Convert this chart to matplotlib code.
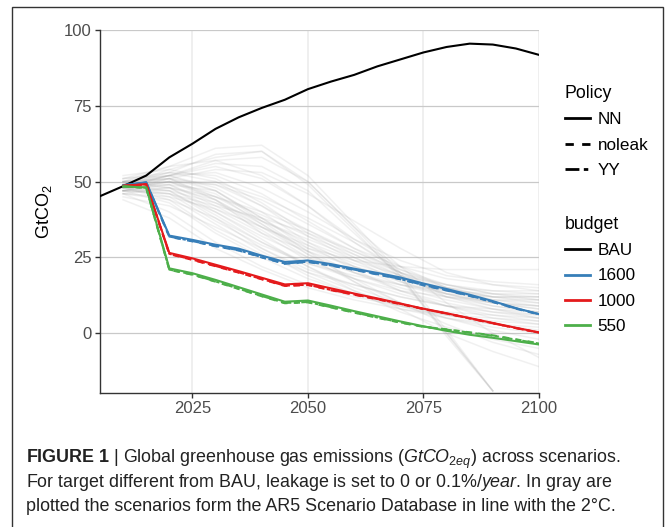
import numpy as np
import matplotlib
matplotlib.use("Agg")
import matplotlib.pyplot as plt
from matplotlib.lines import Line2D
from matplotlib.patches import Rectangle

plt.rcParams['font.family'] = ['Liberation Sans', 'DejaVu Sans']
plt.rcParams['mathtext.fontset'] = 'custom'
plt.rcParams['mathtext.rm'] = 'Liberation Sans'
plt.rcParams['mathtext.it'] = 'Liberation Sans:italic'
plt.rcParams['mathtext.bf'] = 'Liberation Sans:bold'

# BAU emissions path (GtCO2)
bau_years = [2005, 2010, 2015, 2020, 2025, 2030, 2035, 2040, 2045, 2050,
             2055, 2060, 2065, 2070, 2075, 2080, 2085, 2090, 2095, 2100]
bau = [45.2, 48.5, 52.0, 58.0, 62.5, 67.4, 71.2, 74.3, 77.0, 80.5,
       83.0, 85.2, 88.0, 90.3, 92.6, 94.4, 95.5, 95.2, 93.9, 91.8]

# budget scenarios, one array per budget and policy
years = [2010, 2015, 2020, 2025, 2030, 2035, 2040, 2045, 2050, 2055,
         2060, 2065, 2070, 2075, 2080, 2085, 2090, 2095, 2100]
b1600_nn = [48.8, 49.8, 32.2, 30.8, 29.2, 27.9, 25.6, 23.5, 24.0, 22.8,
            21.3, 19.9, 18.4, 16.4, 14.6, 12.7, 10.6, 8.3, 6.3]
b1600_noleak = [48.8, 49.6, 31.8, 30.3, 28.7, 27.3, 25.0, 22.9, 23.5, 22.3,
                20.9, 19.4, 17.8, 15.8, 14.1, 12.3, 10.3, 8.1, 6.2]
b1600_yy = [48.8, 49.7, 31.9, 30.4, 28.8, 27.4, 25.1, 23.0, 23.6, 22.4,
            21.0, 19.5, 17.9, 15.9, 14.2, 12.4, 10.4, 8.2, 6.3]
b1000_nn = [48.6, 49.2, 26.5, 24.7, 22.6, 20.5, 18.3, 16.1, 16.5, 14.8,
            13.1, 11.5, 9.8, 8.1, 6.6, 5.0, 3.4, 1.8, 0.3]
b1000_noleak = [48.6, 49.0, 26.1, 24.2, 22.1, 20.0, 17.8, 15.6, 15.9, 14.2,
                12.7, 11.2, 9.6, 8.0, 6.5, 4.9, 3.3, 1.7, 0.2]
b1000_yy = [48.6, 49.1, 26.2, 24.3, 22.2, 20.1, 17.9, 15.7, 16.0, 14.3,
            12.8, 11.3, 9.7, 8.0, 6.5, 4.9, 3.3, 1.7, 0.2]
b550_nn = [48.4, 48.1, 21.4, 19.8, 17.6, 15.2, 12.8, 10.4, 10.8, 9.1,
           7.3, 5.6, 3.9, 2.3, 0.8, -0.5, -1.5, -2.6, -3.7]
b550_noleak = [48.4, 47.9, 20.9, 19.3, 17.0, 14.6, 12.2, 9.9, 10.2, 8.5,
               6.8, 5.1, 3.5, 2.1, 1.3, 0.3, -0.7, -2.0, -3.3]
b550_yy = [48.4, 48.0, 21.0, 19.4, 17.1, 14.7, 12.3, 10.0, 10.3, 8.6,
           6.9, 5.2, 3.6, 2.2, 1.2, 0.2, -0.8, -2.1, -3.4]

# AR5 scenario database runs compatible with 2°C
ar5_years = [2010, 2020, 2030, 2040, 2050, 2060, 2070, 2080, 2090, 2100]
ar5_runs = [
    [48, 52, 55, 51, 42, 30, 20, 12, 8, 5],
    [49, 54, 58, 60, 50, 35, 22, 10, 0, -8],
    [50, 55, 61, 62, 52, 36, 20, 1, -19, np.nan],
    [49, 53, 59, 60, 49, 34, 18, 0, -19, np.nan],
    [48, 52, 56, 55, 47, 33, 19, -1, -19, np.nan],
    [49, 52, 57, 58, 50, 35, 19, 0, -19, np.nan],
    [47, 50, 50, 45, 38, 30, 21, 15, 12, 10],
    [46, 48, 45, 40, 34, 27, 20, 15, 12, 11],
    [47, 49, 47, 38, 28, 22, 17, 13, 10, 8],
    [48, 50, 46, 36, 26, 20, 15, 11, 8, 6],
    [49, 51, 44, 33, 24, 18, 13, 9, 6, 4],
    [50, 52, 48, 40, 30, 22, 16, 12, 10, 9],
    [51, 53, 50, 42, 32, 24, 17, 12, 9, 7],
    [47, 46, 40, 32, 25, 20, 16, 13, 12, 12],
    [46, 44, 38, 30, 23, 18, 14, 12, 11, 11],
    [45, 42, 35, 28, 21, 16, 12, 9, 7, 6],
    [48, 47, 39, 30, 22, 15, 10, 6, 3, 1],
    [49, 49, 42, 34, 25, 17, 10, 5, 1, -2],
    [50, 50, 44, 35, 26, 18, 10, 3, -3, -7],
    [51, 52, 47, 37, 27, 17, 8, 0, -6, -11],
    [48, 45, 36, 27, 19, 13, 8, 5, 3, 2],
    [47, 43, 33, 25, 18, 13, 9, 6, 4, 3],
    [46, 40, 30, 22, 16, 12, 9, 7, 6, 5],
    [44, 38, 28, 21, 15, 11, 8, 6, 5, 4],
    [49, 48, 41, 33, 27, 22, 18, 15, 14, 14],
    [50, 51, 45, 37, 30, 24, 19, 16, 14, 13],
    [48, 50, 49, 44, 36, 28, 22, 18, 16, 15],
    [49, 52, 53, 48, 40, 31, 24, 19, 17, 16],
    [47, 51, 54, 53, 46, 37, 28, 20, 16, 14],
    [48, 49, 43, 35, 28, 24, 22, 21, 21, 21],
    [50, 53, 52, 46, 37, 28, 20, 14, 10, 8],
    [52, 54, 51, 43, 33, 25, 18, 13, 10, 9],
    [46, 45, 41, 35, 29, 23, 18, 14, 12, 12],
    [47, 47, 43, 37, 31, 25, 19, 14, 11, 10],
    [48, 46, 37, 29, 23, 19, 16, 14, 13, 13],
    [49, 47, 38, 28, 20, 14, 9, 5, 2, 0],
    [50, 48, 40, 31, 22, 14, 7, 2, -2, -5],
    [48, 44, 34, 26, 20, 16, 12, 9, 8, 7],
    [47, 46, 42, 38, 33, 27, 21, 16, 13, 11],
    [51, 55, 57, 52, 42, 31, 22, 15, 11, 9],
    [49, 50, 45, 39, 32, 26, 20, 16, 13, 12],
    [48, 51, 49, 42, 34, 26, 19, 13, 9, 7],
    [47, 48, 44, 36, 27, 20, 14, 10, 7, 5],
    [50, 51, 47, 38, 29, 21, 14, 9, 5, 3],
]

budget_names = ["BAU", "1600", "1000", "550"]
budget_colors = ["black", "#377EB8", "#E41A1C", "#4DAF4A"]
policy_names = ["NN", "noleak", "YY"]
policy_dashes = [None, (3.0, 3.0), (5.0, 1.6, 1.6, 1.6)]

fig = plt.figure(figsize=(6.67, 5.27), dpi=100)
ax = fig.add_axes([100 / 667, 1 - 393 / 527, 439 / 667, 363 / 527])

for run in ar5_runs:
    ax.plot(ar5_years, run, color="#a0a0a0", alpha=0.15, lw=1.1, zorder=1)

ax.plot(bau_years, bau, color="black", lw=1.5, zorder=3)

series = [
    (b1600_nn, b1600_noleak, b1600_yy),
    (b1000_nn, b1000_noleak, b1000_yy),
    (b550_nn, b550_noleak, b550_yy),
]
for color, runs in zip(budget_colors[1:], series):
    for vals, dash in zip(runs, policy_dashes):
        line, = ax.plot(years, vals, color=color, lw=1.5, zorder=3)
        if dash is not None:
            line.set_dashes(dash)

ax.set_xlim(2005, 2100)
ax.set_ylim(-19.7, 100)
ax.set_xticks([2025, 2050, 2075, 2100])
ax.set_yticks([0, 25, 50, 75, 100])
ax.tick_params(colors="#333333", labelcolor="#4d4d4d", labelsize=12,
               length=3.6, width=1, pad=2.5)
for side in ["top", "right"]:
    ax.spines[side].set_visible(False)
for side in ["left", "bottom"]:
    ax.spines[side].set_color("#333333")
    ax.spines[side].set_linewidth(1)
ax.yaxis.grid(True, color="#c9c9c9", lw=0.9)
ax.xaxis.grid(True, color="#ebebeb", lw=1.1)
ax.set_axisbelow(True)
ax.set_ylabel("GtCO$_2$", fontsize=13, color="black", labelpad=7)

# legends
policy_handles = []
for name, dash in zip(policy_names, policy_dashes):
    h = Line2D([], [], color="black", lw=2)
    if dash is not None:
        h.set_dashes(dash)
    policy_handles.append(h)
budget_handles = [Line2D([], [], color=c, lw=2) for c in budget_colors]

leg_kw = dict(loc="upper left", bbox_transform=fig.transFigure, frameon=False,
              alignment="left", fontsize=12.3, title_fontsize=12.8,
              handlelength=1.45, handletextpad=0.45, labelspacing=0.6,
              borderpad=0, borderaxespad=0)
leg1 = ax.legend(policy_handles, policy_names, title="Policy",
                 bbox_to_anchor=(565 / 667, 1 - 85 / 527), **leg_kw)
ax.add_artist(leg1)
ax.legend(budget_handles, budget_names, title="budget",
          bbox_to_anchor=(565 / 667, 1 - 216 / 527), **leg_kw)

# frame and caption
fig.patches.append(Rectangle((12 / 667, -0.1), 651 / 667, 1.1 - 7 / 527,
                             transform=fig.transFigure, fill=False,
                             edgecolor="#333333", lw=1))
caption = [
    r"$\mathbf{FIGURE\ 1}$ | Global greenhouse gas emissions ($\mathit{GtCO}_{\mathit{2eq}}$) across scenarios.",
    r"For target different from BAU, leakage is set to 0 or 0.1%/$\mathit{year}$. In gray are",
    "plotted the scenarios form the AR5 Scenario Database in line with the 2°C.",
]
for i, line in enumerate(caption):
    fig.text(26 / 667, 1 - (463 + i * 24) / 527, line, fontsize=12.9,
             color="#222222", va="baseline", ha="left")

fig.savefig("out.png", dpi=100)
